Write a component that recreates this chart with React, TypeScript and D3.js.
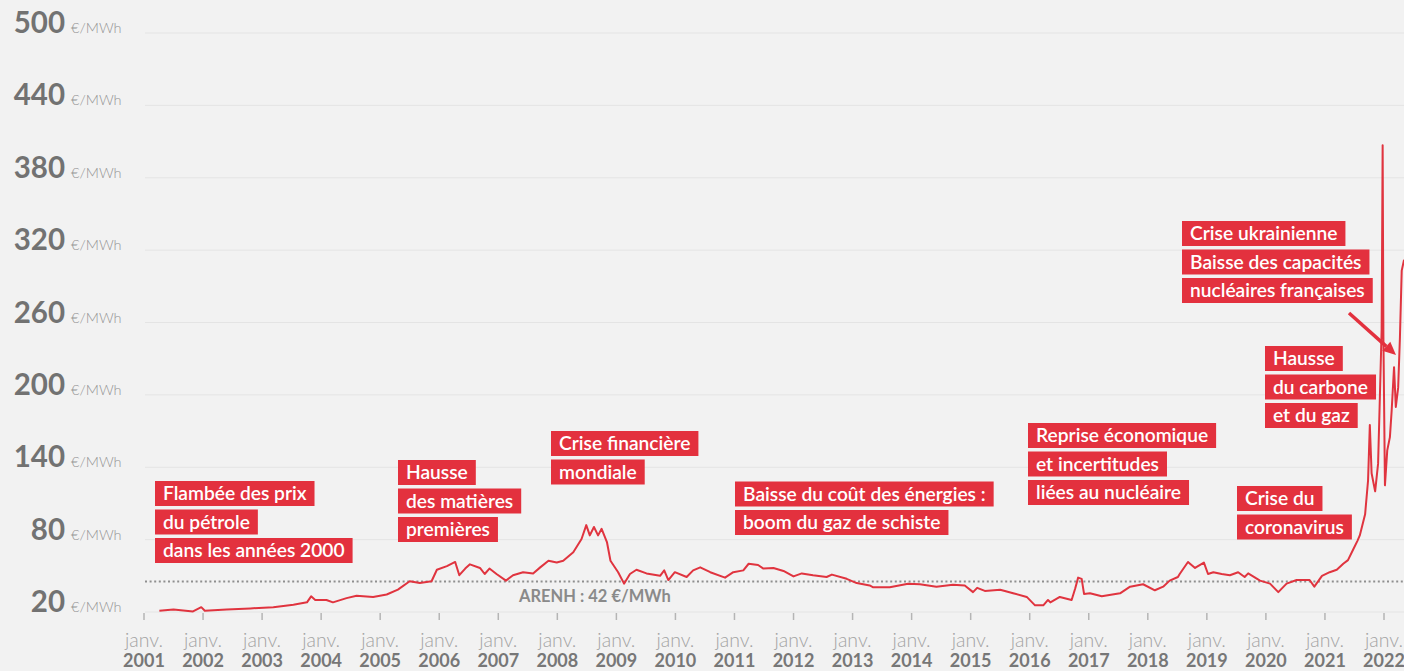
import React, { useEffect, useRef } from 'react';
import * as d3 from 'd3';

const W = 1404;
const H = 671;

const yTicks = [20, 80, 140, 200, 260, 320, 380, 440, 500];
const xYears = d3.range(2001, 2023);
const monthLabel = 'janv.';
const unitLabel = '€/MWh';
const arenhValue = 42;
const arenhLabel = 'ARENH : 42 €/MWh';

const priceYears = [
  2001.26, 2001.5, 2001.83, 2001.97, 2002.03, 2002.4, 2002.8, 2003.19, 2003.53, 2003.76,
  2003.83, 2003.9, 2004.09, 2004.2, 2004.43, 2004.6, 2004.88, 2005.11, 2005.3, 2005.5,
  2005.67, 2005.87, 2005.96, 2006.13, 2006.27, 2006.34, 2006.44, 2006.52, 2006.69, 2006.77,
  2006.85, 2006.97, 2007.13, 2007.25, 2007.42, 2007.59, 2007.71, 2007.85, 2007.99, 2008.1,
  2008.27, 2008.41, 2008.49, 2008.55, 2008.62, 2008.69, 2008.75, 2008.84, 2008.9, 2009.03,
  2009.13, 2009.23, 2009.34, 2009.51, 2009.74, 2009.81, 2009.88, 2009.99, 2010.19, 2010.3,
  2010.42, 2010.59, 2010.84, 2010.98, 2011.15, 2011.24, 2011.4, 2011.49, 2011.66, 2011.83,
  2012.0, 2012.14, 2012.33, 2012.56, 2012.65, 2012.9, 2013.07, 2013.29, 2013.35, 2013.63,
  2013.94, 2014.14, 2014.42, 2014.7, 2014.9, 2015.04, 2015.11, 2015.24, 2015.5, 2015.72,
  2015.95, 2016.09, 2016.23, 2016.31, 2016.35, 2016.51, 2016.71, 2016.77, 2016.82, 2016.88,
  2016.92, 2017.02, 2017.22, 2017.53, 2017.7, 2017.92, 2018.12, 2018.26, 2018.37, 2018.51,
  2018.54, 2018.68, 2018.8, 2018.95, 2019.02, 2019.11, 2019.25, 2019.39, 2019.53, 2019.64,
  2019.7, 2019.9, 2020.07, 2020.21, 2020.35, 2020.52, 2020.74, 2020.82, 2020.95, 2021.08,
  2021.2, 2021.31, 2021.39, 2021.48, 2021.55, 2021.59, 2021.68, 2021.73, 2021.76, 2021.79,
  2021.85, 2021.9, 2021.93, 2021.96, 2021.977, 2021.99, 2022.016, 2022.055, 2022.1, 2022.13,
  2022.17, 2022.2, 2022.24, 2022.27, 2022.3, 2022.34,
];

const priceValues = [
  21, 22, 20.5, 24, 21, 22, 23, 24, 26, 28,
  33, 30, 30, 28, 31.5, 33.5, 32.5, 34.5, 38.5, 45.5,
  44, 45.5, 55, 58, 61.5, 50.5, 56, 59.5, 56.5, 51.5,
  56, 51.5, 46, 50.5, 53, 52, 57, 62.5, 61, 62.5,
  69.5, 80.5, 92, 83.5, 90.5, 83.5, 89, 78, 62.5, 53,
  43.5, 51.5, 55, 52, 50, 54.5, 46.5, 53, 49, 54.5,
  57, 53, 48.5, 53, 54.5, 60, 59, 56, 56.5, 54,
  49.5, 52, 50.5, 49, 51, 47.5, 44, 42, 40.5, 40.5,
  43.5, 43, 41, 42.5, 42, 36.5, 40, 37.5, 38.5, 35.5,
  32.5, 25.5, 25.5, 30, 28, 32.5, 30, 39.5, 48.5, 47.5,
  35, 35.5, 33, 35.5, 41, 43, 38, 41, 46, 49,
  51.5, 61.5, 56.5, 61, 51.5, 53, 51.5, 50.5, 53, 49,
  52, 46, 43.5, 36.5, 43.5, 46.5, 46.5, 41, 50, 53,
  55, 60, 63, 72, 79, 83.5, 101, 129, 175, 135,
  120, 143, 198, 254, 407, 248, 125, 154, 165, 187,
  223, 190, 206, 248, 303, 312,
];

const annotationTexts = [
  ['Flambée des prix', 'du pétrole', 'dans les années 2000'],
  ['Hausse', 'des matières', 'premières'],
  ['Crise financière', 'mondiale'],
  ['Baisse du coût des énergies :', 'boom du gaz de schiste'],
  ['Reprise économique', 'et incertitudes', 'liées au nucléaire'],
  ['Crise du', 'coronavirus'],
  ['Hausse', 'du carbone', 'et du gaz'],
  ['Crise ukrainienne', 'Baisse des capacités', 'nucléaires françaises'],
];

// layout (pixel positions of annotation blocks: left, top)
const annotationLayout = [
  [155, 481],
  [398, 460],
  [551, 431],
  [735, 481.5],
  [1028, 423],
  [1237, 486],
  [1265, 346],
  [1182, 221],
];

const FONT = "Lato, 'Source Sans Pro', 'Open Sans', sans-serif";
const RED = '#e3313e';
const LINE_RED = '#e0343f';

export default function App() {
  const ref = useRef<SVGSVGElement | null>(null);

  useEffect(() => {
    const svg = d3.select(ref.current);
    svg.selectAll('*').remove();

    const x = d3.scaleLinear().domain([2001, 2022]).range([144, 1384]);
    const y = d3.scaleLinear().domain([20, 500]).range([612, 33]);

    svg.append('rect').attr('x', 0).attr('y', 0).attr('width', W).attr('height', H).attr('fill', '#f2f2f2');

    // grid
    svg
      .append('g')
      .selectAll('line')
      .data(yTicks)
      .join('line')
      .attr('x1', 145)
      .attr('x2', W)
      .attr('y1', (d) => y(d))
      .attr('y2', (d) => y(d))
      .attr('stroke', '#e4e4e4')
      .attr('stroke-width', 1);

    // y labels
    const yl = svg.append('g');
    yl.selectAll('text.num')
      .data(yTicks)
      .join('text')
      .attr('class', 'num')
      .attr('x', 65)
      .attr('y', (d) => y(d))
      .attr('text-anchor', 'end')
      .attr('font-family', FONT)
      .attr('font-weight', 700)
      .attr('font-size', 29.5)
      .attr('fill', '#727272')
      .text((d) => String(d));
    yl.selectAll('text.unit')
      .data(yTicks)
      .join('text')
      .attr('class', 'unit')
      .attr('x', 71)
      .attr('y', (d) => y(d))
      .attr('font-family', FONT)
      .attr('font-weight', 300)
      .attr('font-size', 14.5)
      .attr('fill', '#949494')
      .text(unitLabel);

    // x ticks & labels
    const xg = svg.append('g');
    xg.selectAll('line')
      .data(xYears)
      .join('line')
      .attr('x1', (d) => x(d))
      .attr('x2', (d) => x(d))
      .attr('y1', 613)
      .attr('y2', 620)
      .attr('stroke', '#b5b5b5')
      .attr('stroke-width', 1.5);
    xg.selectAll('text.m')
      .data(xYears)
      .join('text')
      .attr('class', 'm')
      .attr('x', (d) => x(d))
      .attr('y', 646.5)
      .attr('text-anchor', 'middle')
      .attr('font-family', FONT)
      .attr('font-weight', 300)
      .attr('font-size', 19.5)
      .attr('fill', '#a3a3a3')
      .text(monthLabel);
    xg.selectAll('text.yr')
      .data(xYears)
      .join('text')
      .attr('class', 'yr')
      .attr('x', (d) => x(d))
      .attr('y', 667)
      .attr('text-anchor', 'middle')
      .attr('font-family', FONT)
      .attr('font-weight', 700)
      .attr('font-size', 18)
      .attr('fill', '#777777')
      .text((d) => String(d));

    // ARENH
    svg
      .append('line')
      .attr('x1', 145)
      .attr('x2', W)
      .attr('y1', y(arenhValue) - 4)
      .attr('y2', y(arenhValue) - 4)
      .attr('stroke', '#8f8f8f')
      .attr('stroke-width', 2)
      .attr('stroke-dasharray', '2 2.6');
    svg
      .append('text')
      .attr('x', 519)
      .attr('y', y(arenhValue) + 16.5)
      .attr('font-family', FONT)
      .attr('font-weight', 700)
      .attr('font-size', 16.5)
      .attr('fill', '#8a8a8a')
      .text(arenhLabel);

    // price line
    const data = priceYears.map((yr, i) => [yr, priceValues[i]] as [number, number]);
    const line = d3
      .line<[number, number]>()
      .x((d) => x(d[0]))
      .y((d) => y(d[1]));
    svg
      .append('path')
      .attr('d', line(data) || '')
      .attr('fill', 'none')
      .attr('stroke', LINE_RED)
      .attr('stroke-width', 2)
      .attr('stroke-linejoin', 'round');

    // annotations
    annotationTexts.forEach((lines, ai) => {
      const [left, top] = annotationLayout[ai];
      lines.forEach((t, li) => {
        const g = svg.append('g').attr('transform', `translate(${left},${top + li * 28.5})`);
        const rect = g.append('rect').attr('height', 25).attr('fill', RED);
        const txt = g
          .append('text')
          .attr('x', 8)
          .attr('y', 19)
          .attr('font-family', FONT)
          .attr('font-weight', 600)
          .attr('font-size', 19.2)
          .attr('fill', '#ffffff')
          .text(t);
        const w = (txt.node() as SVGTextElement).getComputedTextLength();
        rect.attr('width', w + 16);
      });
    });

    // arrow
    const x0 = 1349, y0 = 313, x1 = 1396, y1 = 355;
    const ang = Math.atan2(y1 - y0, x1 - x0);
    const hl = 13, hw = 6;
    const bx = x1 - hl * Math.cos(ang), by = y1 - hl * Math.sin(ang);
    svg
      .append('line')
      .attr('x1', x0)
      .attr('y1', y0)
      .attr('x2', bx)
      .attr('y2', by)
      .attr('stroke', RED)
      .attr('stroke-width', 3.5);
    const px = -Math.sin(ang), py = Math.cos(ang);
    svg
      .append('path')
      .attr('d', `M${x1},${y1}L${bx + px * hw},${by + py * hw}L${bx - px * hw},${by - py * hw}Z`)
      .attr('fill', RED);
  }, []);

  return (
    <svg
      ref={ref}
      width={W}
      height={H}
      style={{ position: 'fixed', left: 0, top: 0, display: 'block' }}
    />
  );
}
